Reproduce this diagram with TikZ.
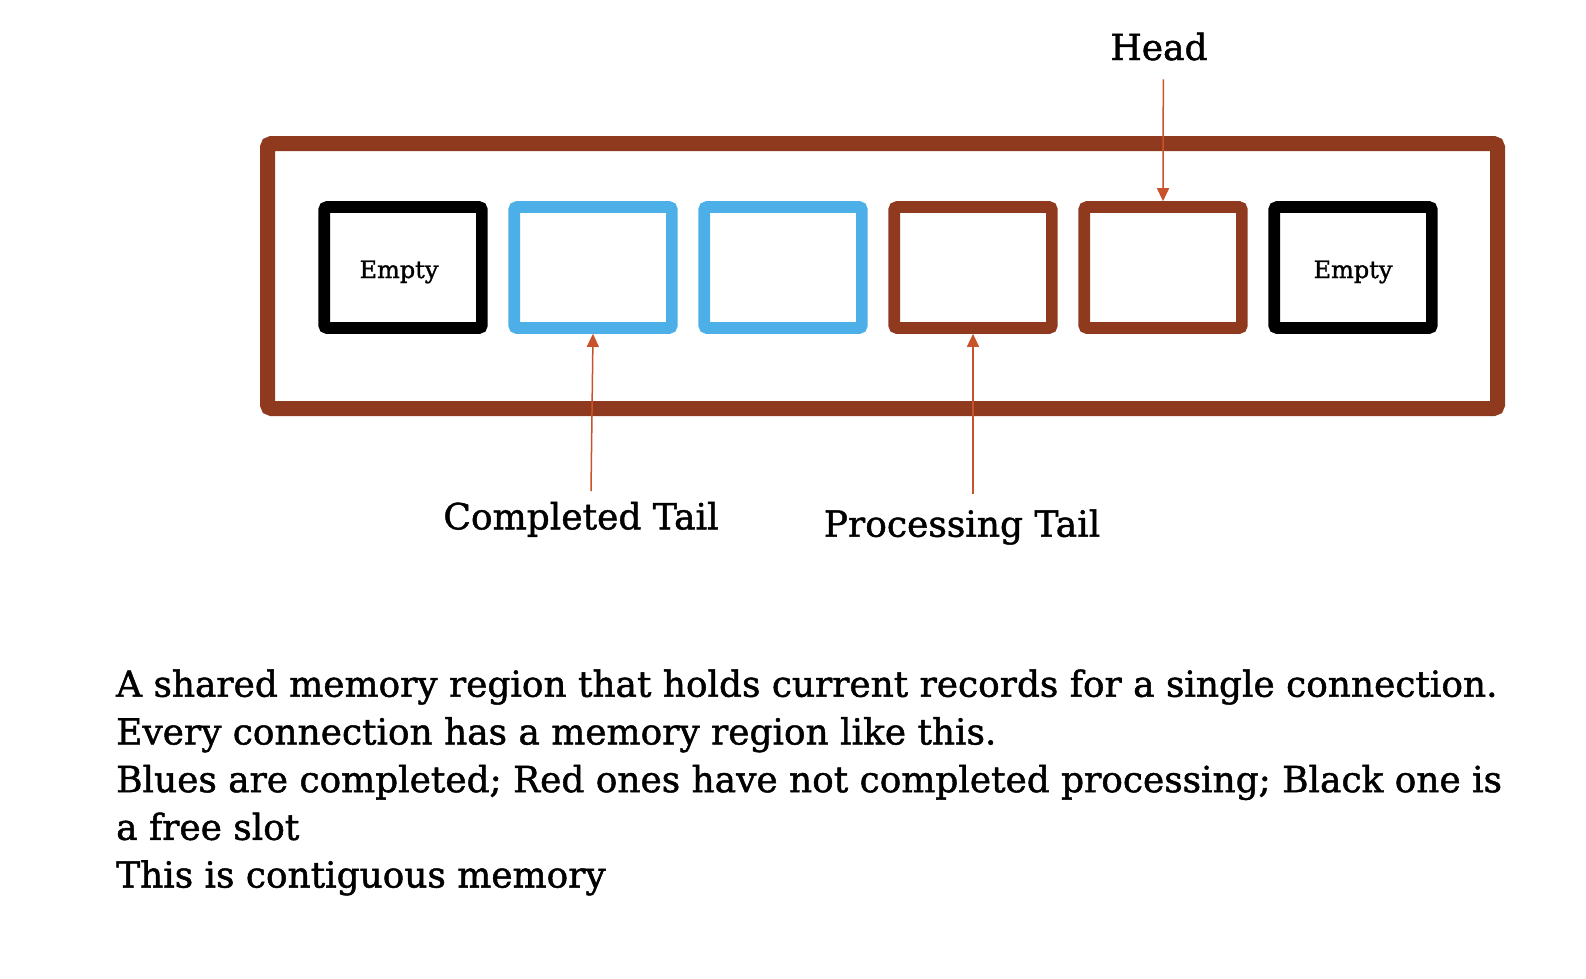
\documentclass[tikz,border=0pt]{standalone}
\usepackage{fontspec}
\setmainfont{DejaVu Serif}[FakeBold=1.3]
\usetikzlibrary{arrows.meta}
\definecolor{frameBrown}{RGB}{143,57,30}
\definecolor{slotBlue}{RGB}{77,175,232}
\definecolor{ptrRed}{RGB}{200,82,42}
\begin{document}
\begin{tikzpicture}[x=1pt,y=-1pt,
  regionbox/.style={draw=frameBrown,line width=15pt,rounded corners=4pt,minimum width=1230pt,minimum height=265pt,inner sep=0pt},
  slot/.style={line width=11.7pt,rounded corners=3pt,minimum width=157.7pt,minimum height=121pt,inner sep=0pt},
  emptyslot/.style={slot,draw=black},
  doneslot/.style={slot,draw=slotBlue},
  procslot/.style={slot,draw=frameBrown},
  slotlabel/.style={font=\fontsize{24}{28}\selectfont,anchor=base,inner sep=0pt},
  ptrlabel/.style={font=\fontsize{36}{40}\selectfont,anchor=base,inner sep=0pt},
  ptr/.style={draw=ptrRed,line width=1.5pt,-{Triangle[width=12pt,length=13pt]}},
  bodytext/.style={font=\fontsize{35.9}{47.7}\selectfont,anchor=base west,align=left,inner sep=0pt}
]
\useasboundingbox[fill=white] (0,0) rectangle (1586,978);

\node[regionbox] (region) at (882.5,276) {};

\node[emptyslot] (b1) at (403,267.5) {};
\node[doneslot]  (b2) at (593,267.5) {};
\node[doneslot]  (b3) at (783,267.5) {};
\node[procslot]  (b4) at (973,267.5) {};
\node[procslot]  (b5) at (1163,267.5) {};
\node[emptyslot] (b6) at (1353,267.5) {};

\node[slotlabel] (e1) at (399,278) {Empty};
\node[slotlabel] (e6) at (1353,278) {Empty};

\node[ptrlabel] (head) at (1159,60) {Head};
\node[ptrlabel] (ctail) at (581,529.3) {Completed Tail};
\node[ptrlabel] (ptail) at (962,536.7) {Processing Tail};

\coordinate (hs) at (1163.3,79.3);
\coordinate (cs) at (591,491);
\coordinate (ps) at (973,494);

\draw[ptr] (hs) -- (b5.north);
\draw[ptr] (cs) -- (b2.south);
\draw[ptr] (ps) -- (b4.south);

\node[bodytext] (body) at (116,887.5) {A shared memory region that holds current records for a single connection.\\
Every connection has a memory region like this.\\
Blues are completed; Red ones have not completed processing; Black one is\\
a free slot\\
This is contiguous memory};
\end{tikzpicture}
\end{document}
